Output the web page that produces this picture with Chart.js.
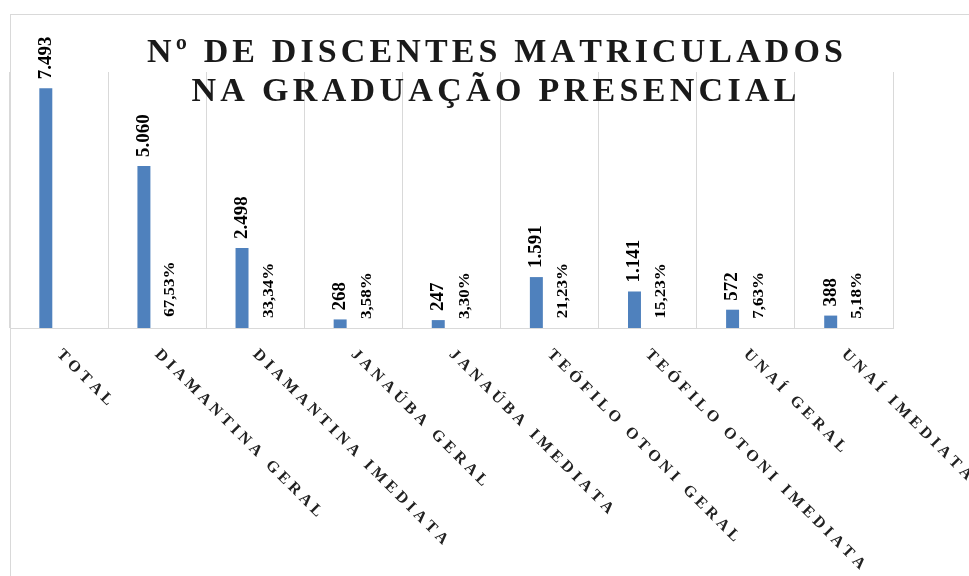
<!DOCTYPE html>
<html>
<head>
<meta charset="utf-8">
<script src="https://cdn.jsdelivr.net/npm/chart.js@4.4.1/dist/chart.umd.min.js"></script>
<style>
  html, body { margin: 0; padding: 0; background: #fff; }
  #wrap { position: relative; width: 969px; height: 576px; overflow: hidden; }
  #frame { position: absolute; left: 10px; top: 14px; width: 1000px; height: 600px;
           border-left: 1px solid #d9d9d9; border-top: 1px solid #d9d9d9; }
  canvas { position: absolute; left: 0; top: 0; }
</style>
</head>
<body>
<div id="wrap">
  <div id="frame"></div>
  <canvas id="barChart" width="969" height="576"></canvas>
</div>
<script>
// data
const categories = ['TOTAL', 'DIAMANTINA GERAL', 'DIAMANTINA IMEDIATA', 'JANAÚBA GERAL', 'JANAÚBA IMEDIATA',
  'TEÓFILO OTONI GERAL', 'TEÓFILO OTONI IMEDIATA', 'UNAÍ GERAL', 'UNAÍ IMEDIATA'];
const students = [7493, 5060, 2498, 268, 247, 1591, 1141, 572, 388];
const shares = [null, 67.53, 33.34, 3.58, 3.30, 21.23, 15.23, 7.63, 5.18];
const titleLines = ['Nº DE DISCENTES MATRICULADOS', 'NA GRADUAÇÃO PRESENCIAL'];
const yMax = 8000;

const serif = "'Liberation Serif', 'Times New Roman', serif";

function fmtThousands(n) {
  return String(n).replace(/\B(?=(\d{3})+(?!\d))/g, '.');
}
function fmtPercent(p) {
  return p.toFixed(2).replace('.', ',') + '%';
}

// letter-spaced text, char by char
function charsWidth(ctx, text) {
  let w = 0;
  for (const ch of text) w += ctx.measureText(ch).width;
  return w;
}
function drawSpaced(ctx, text, x, y, gap) {
  for (const ch of text) {
    ctx.fillText(ch, x, y);
    x += ctx.measureText(ch).width + gap;
  }
}

const labelPlugin = {
  id: 'labelPlugin',
  afterDatasetsDraw(chart) {
    const ctx = chart.ctx;
    const area = chart.chartArea;

    // value labels on top of the bars
    chart.getDatasetMeta(0).data.forEach((el, i) => {
      ctx.save();
      ctx.translate(el.x, el.y - 9);
      ctx.rotate(-Math.PI / 2);
      ctx.font = 'bold 19px ' + serif;
      ctx.fillStyle = '#000';
      ctx.textAlign = 'left';
      ctx.textBaseline = 'middle';
      ctx.fillText(fmtThousands(students[i]), 0, 0);
      ctx.restore();
    });

    // percent labels next to them
    chart.getDatasetMeta(1).data.forEach((el, i) => {
      if (shares[i] == null) return;
      ctx.save();
      ctx.translate(el.x, el.y - 9);
      ctx.rotate(-Math.PI / 2);
      ctx.scale(1, 0.92);
      ctx.font = 'bold 17px ' + serif;
      ctx.fillStyle = '#000';
      ctx.textAlign = 'left';
      ctx.textBaseline = 'middle';
      ctx.fillText(fmtPercent(shares[i]), 0, 0);
      ctx.restore();
    });

    // category labels, rotated down to the right
    const xs = chart.scales.x;
    categories.forEach((name, i) => {
      ctx.save();
      ctx.translate(xs.getPixelForValue(i), area.bottom + 24);
      ctx.rotate(Math.PI / 4);
      ctx.font = 'bold 16px ' + serif;
      ctx.fillStyle = '#222';
      ctx.textAlign = 'left';
      ctx.textBaseline = 'middle';
      drawSpaced(ctx, name, 0, 0, 4.1);
      ctx.restore();
    });

    // title, two lines
    ctx.save();
    ctx.font = 'bold 34px ' + serif;
    ctx.fillStyle = '#1a1a1a';
    ctx.textAlign = 'left';
    ctx.textBaseline = 'alphabetic';
    const lines = [
      { text: titleLines[0], cx: 495, y: 62, w: 696 },
      { text: titleLines[1], cx: 494, y: 101, w: 605 }
    ];
    lines.forEach(l => {
      const n = [...l.text].length;
      const gap = (l.w - charsWidth(ctx, l.text)) / (n - 1);
      drawSpaced(ctx, l.text, l.cx - l.w / 2, l.y, gap);
    });
    ctx.restore();
  }
};

var ctx = document.getElementById('barChart').getContext('2d');
var myBarChart = new Chart(ctx, {
  type: 'bar',
  data: {
    labels: categories,
    datasets: [{
      label: 'Discentes',
      data: students,
      backgroundColor: '#4F81BD',
      categoryPercentage: 0.54,
      barPercentage: 0.49
    }, {
      label: 'Percentual',
      data: shares,
      backgroundColor: 'rgba(0,0,0,0)',
      categoryPercentage: 0.54,
      barPercentage: 0.49
    }]
  },
  options: {
    responsive: false,
    animation: false,
    devicePixelRatio: 1,
    layout: { padding: { left: 10, right: 76, top: 72, bottom: 248 } },
    plugins: {
      legend: { display: false },
      title: { display: false },
      tooltip: { enabled: false }
    },
    scales: {
      x: {
        grid: { color: '#d9d9d9', drawTicks: false, offset: true },
        border: { color: '#d9d9d9' },
        ticks: { display: false }
      },
      y: { display: false, min: 0, max: yMax }
    }
  },
  plugins: [labelPlugin]
});
</script>
</body>
</html>
